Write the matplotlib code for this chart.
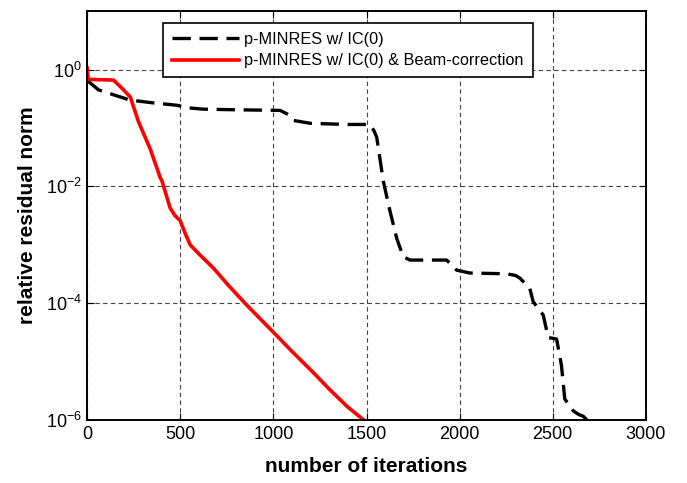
import matplotlib
matplotlib.use('Agg')
import matplotlib.pyplot as plt
from matplotlib.ticker import FixedLocator, NullLocator

plt.rcParams['font.family'] = ['Liberation Sans', 'DejaVu Sans']
plt.rcParams['mathtext.fontset'] = 'custom'
plt.rcParams['mathtext.rm'] = 'Liberation Sans'
plt.rcParams['mathtext.it'] = 'Liberation Sans'
plt.rcParams['mathtext.default'] = 'regular'

# p-MINRES w/ IC(0)
it_ic = [0, 60, 141, 231, 350, 481, 550, 623, 800, 1036, 1080, 1106, 1200, 1400,
         1519, 1540, 1555, 1590, 1626, 1662, 1697, 1733, 1930, 1960, 1984, 2055,
         2252, 2300, 2324, 2377, 2395, 2449, 2476, 2521, 2547, 2565, 2590, 2610,
         2640, 2664, 2685]
res_ic = [0.65, 0.45, 0.37, 0.30, 0.27, 0.245, 0.22, 0.21, 0.205, 0.20, 0.17, 0.135,
          0.12, 0.115, 0.115, 0.09, 0.069, 0.0124, 0.0038, 1.3e-3, 6.3e-4, 5.5e-4,
          5.5e-4, 4.5e-4, 3.7e-4, 3.3e-4, 3.2e-4, 3.0e-4, 2.7e-4, 1.8e-4, 1.07e-4,
          6.3e-5, 2.6e-5, 2.45e-5, 8.7e-6, 2.3e-6, 1.8e-6, 1.45e-6, 1.25e-6,
          1.17e-6, 1.0e-6]

# p-MINRES w/ IC(0) & Beam-correction
it_bc = [0, 5, 141, 186, 231, 276, 338, 392, 401, 420, 445, 470, 499, 525, 553,
         600, 678, 760, 857, 1000, 1100, 1215, 1300, 1394, 1483, 1486]
res_bc = [1.05, 0.68, 0.66, 0.48, 0.34, 0.126, 0.044, 0.0141, 0.0125, 0.0079,
          0.0043, 0.0032, 0.0026, 0.0016, 0.001, 7.0e-4, 4.0e-4, 2.0e-4, 9.3e-5,
          3.2e-5, 1.5e-5, 6.5e-6, 3.4e-6, 1.74e-6, 1.02e-6, 9e-7]

xticks = [0, 500, 1000, 1500, 2000, 2500, 3000]
yticks = [1e-6, 1e-4, 1e-2, 1e0]
ytick_labels = ['$10^{-6}$', '$10^{-4}$', '$10^{-2}$', '$10^{0}$']

fig = plt.figure(figsize=(6.87, 4.83), dpi=100)
ax = fig.add_axes([0.127, 0.130, 0.813, 0.847])

ax.plot(it_ic, res_ic, color='black', linewidth=2.4, dashes=(5.5, 2.6),
        label='p-MINRES w/ IC(0)')
ax.plot(it_bc, res_bc, color='red', linewidth=2.6,
        label='p-MINRES w/ IC(0) & Beam-correction')

ax.set_yscale('log')
ax.set_xlim(0, 3000)
ax.set_ylim(1e-6, 10)
ax.set_xticks(xticks)
ax.yaxis.set_major_locator(FixedLocator(yticks))
ax.yaxis.set_minor_locator(NullLocator())
ax.set_yticklabels(ytick_labels)

ax.tick_params(direction='in', length=5, width=0.8, top=True, right=True,
               labelsize=13, pad=4)
ax.grid(True, color='#444444', linestyle=(0, (4, 3)), linewidth=0.8)
for s in ax.spines.values():
    s.set_linewidth(1.4)

ax.set_xlabel('number of iterations', fontsize=15, fontweight='bold', labelpad=10)
ax.set_ylabel('relative residual norm', fontsize=15, fontweight='bold', labelpad=6)

leg = ax.legend(loc='upper left', bbox_to_anchor=(0.136, 0.971), borderaxespad=0,
                fontsize=11.7, fancybox=False, framealpha=1, edgecolor='black',
                handlelength=4.1, handletextpad=0.35, labelspacing=0.4,
                borderpad=0.55)
leg.get_frame().set_linewidth(1.2)

fig.savefig('out.png', dpi=100)
